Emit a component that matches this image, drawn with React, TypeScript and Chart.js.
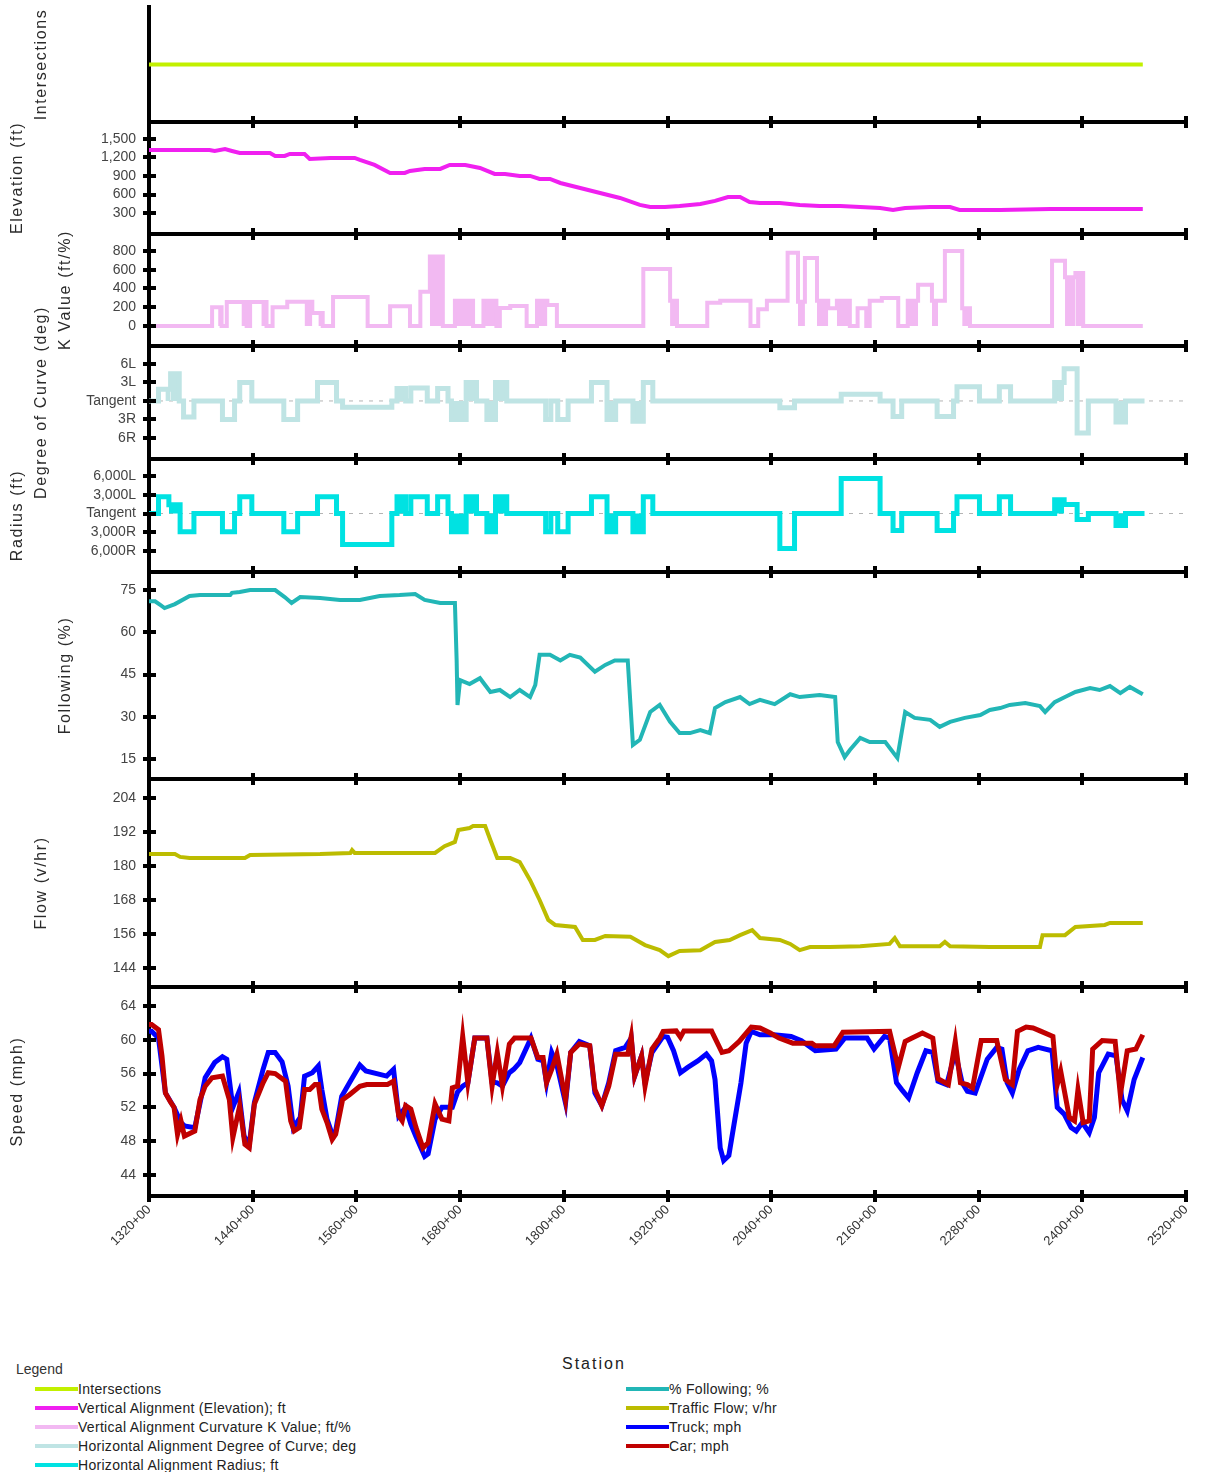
import React, { useEffect, useRef } from 'react';
import { Chart, registerables } from 'chart.js';

Chart.register(...registerables);

// ---------------- DATA ----------------
const X_MIN = 1320;
const X_MAX = 2520;
const X_TICKS = [1320, 1440, 1560, 1680, 1800, 1920, 2040, 2160, 2280, 2400, 2520];

const INTERSECTIONS: number[][] = [[1320, 1], [2470, 1]];

const ELEVATION: number[][] = [
  [1320, 1322], [1390, 1322], [1396, 1306], [1408, 1335], [1416, 1306], [1425, 1273], [1460, 1273],
  [1466, 1225], [1477, 1225], [1483, 1257], [1500, 1257], [1506, 1176], [1530, 1192], [1558, 1192],
  [1564, 1160], [1581, 1079], [1599, 949], [1616, 949], [1622, 982], [1639, 1014], [1657, 1014],
  [1668, 1079], [1686, 1079], [1703, 1030], [1720, 933], [1732, 933], [1749, 901], [1761, 901],
  [1772, 852], [1784, 852], [1796, 787], [1819, 706], [1842, 625], [1865, 544], [1888, 431],
  [1900, 398], [1917, 398], [1934, 415], [1958, 447], [1975, 496], [1990, 560], [2004, 560],
  [2015, 479], [2027, 463], [2050, 463], [2073, 431], [2096, 415], [2120, 415], [2143, 398],
  [2166, 382], [2181, 350], [2195, 382], [2224, 398], [2247, 398], [2258, 350], [2305, 350],
  [2363, 366], [2470, 366],
];

// K value: [station, value] – value holds until the next station
const K_VALUE: number[][] = [
  [1320, 0], [1393, 200], [1404, 0], [1410, 255], [1433, 0], [1437, 255], [1456, 0], [1463, 200],
  [1480, 260], [1509, 140], [1521, 0], [1533, 310], [1573, 0], [1599, 210], [1622, 0], [1634, 366],
  [1645, 740], [1660, 0], [1674, 270], [1695, 0], [1707, 270], [1722, 0], [1726, 192], [1738, 213],
  [1757, 0], [1769, 270], [1781, 225], [1792, 0], [1892, 608], [1923, 270], [1931, 0], [1966, 249],
  [1981, 270], [2016, 0], [2025, 180], [2035, 270], [2059, 780], [2071, 260], [2079, 725], [2093, 270],
  [2106, 190], [2116, 270], [2131, 0], [2140, 190], [2150, 0], [2154, 270], [2168, 300], [2187, 0],
  [2198, 270], [2210, 440], [2226, 270], [2241, 800], [2261, 190], [2270, 0], [2365, 697], [2380, 520],
  [2392, 565], [2401, 0], [2470, 0],
];
// dense (filled-looking) K blocks: [from, to, value]
const K_FILLED: number[][] = [
  [1400, 1404, 200], [1427, 1433, 255], [1450, 1456, 255], [1500, 1509, 260], [1516, 1521, 140],
  [1645, 1660, 740], [1674, 1695, 270], [1707, 1722, 270], [1769, 1781, 270], [1923, 1931, 270],
  [2071, 2079, 260], [2093, 2106, 270], [2116, 2131, 270], [2198, 2210, 270], [2226, 2233, 270],
  [2261, 2270, 190], [2380, 2392, 520], [2392, 2401, 565],
];

const DEGREE: number[][] = [
  [1320, 0], [1331, 1.9], [1345, 4.4], [1355, 0], [1360, -2.6], [1372, 0], [1405, -3], [1419, 0],
  [1425, 3], [1439, 0], [1476, -3], [1492, 0], [1515, 3], [1537, 0], [1544, -1], [1601, 0],
  [1607, 2], [1617, 0], [1623, 2.1], [1642, 0], [1654, 2], [1666, 0], [1670, -3], [1687, 3],
  [1699, 0], [1711, -3], [1721, 3], [1734, 0], [1779, -3], [1785, 0], [1793, -3], [1805, 0],
  [1832, 3], [1850, -3], [1860, 0], [1880, -3.3], [1892, 3], [1903, 0], [2050, -1.1], [2067, 0],
  [2121, 1.1], [2166, 0], [2181, -2.5], [2191, 0], [2232, -2.5], [2251, 0], [2255, 2.3], [2281, 0],
  [2304, 2.3], [2317, 0], [2368, 3], [2379, 5.2], [2394, -5.2], [2407, 0], [2439, -3.4], [2450, 0],
  [2472, 0],
];
const DEGREE_FILLED: number[][] = [
  [1339, 1345, 1.9], [1345, 1355, 4.4], [1607, 1617, 2], [1670, 1687, -3], [1687, 1699, 3],
  [1711, 1721, -3], [1721, 1734, 3], [1850, 1860, -3], [1880, 1892, -3.3], [2368, 2379, 3],
  [2439, 2450, -3.4],
];

const RADIUS: number[][] = [
  [1320, 0], [1331, 2700], [1343, 1400], [1356, -2900], [1372, 0], [1405, -2900], [1419, 0],
  [1425, 2700], [1439, 0], [1476, -2900], [1492, 0], [1515, 2700], [1537, 0], [1544, -4960],
  [1601, 0], [1607, 2700], [1617, 0], [1623, 2700], [1642, 0], [1654, 2700], [1666, 0],
  [1670, -2900], [1687, 2700], [1699, 0], [1711, -2900], [1721, 2700], [1734, 0], [1779, -2900],
  [1785, 0], [1793, -2900], [1805, 0], [1832, 2700], [1850, -2900], [1860, 0], [1880, -2900],
  [1892, 2700], [1903, 0], [2050, -5600], [2067, 0], [2121, 5600], [2166, 0], [2181, -2700],
  [2191, 0], [2232, -2700], [2251, 0], [2255, 2700], [2281, 0], [2304, 2700], [2317, 0],
  [2368, 2200], [2379, 1440], [2394, -960], [2407, 0], [2439, -1900], [2450, 0], [2472, 0],
];
const RADIUS_FILLED: number[][] = [
  [1343, 1356, 1400], [1607, 1617, 2700], [1670, 1687, -2900], [1687, 1699, 2700],
  [1711, 1721, -2900], [1721, 1734, 2700], [1850, 1860, -2900], [1880, 1892, -2900],
  [2368, 2379, 2200], [2439, 2450, -1900],
];

const FOLLOWING: number[][] = [
  [1320, 71], [1327, 71], [1333, 69.7], [1338, 68.6], [1350, 70], [1367, 72.9], [1379, 73.2],
  [1414, 73.2], [1416, 74], [1425, 74.3], [1437, 75], [1466, 75], [1477, 72.5], [1485, 70.4],
  [1495, 72.5], [1518, 72.2], [1541, 71.5], [1564, 71.5], [1587, 72.9], [1610, 73.2], [1628, 73.6],
  [1639, 71.5], [1657, 70.4], [1674, 70.4], [1676, 50], [1677, 34.2], [1680, 43], [1691, 41.6],
  [1703, 43.7], [1715, 38.8], [1726, 39.5], [1738, 37], [1749, 39.5], [1761, 37], [1767, 41.3],
  [1772, 52], [1784, 52], [1796, 50], [1807, 52], [1819, 51], [1836, 46], [1848, 48.4], [1859, 50],
  [1874, 50], [1880, 20], [1888, 21.8], [1900, 31.7], [1911, 34.2], [1923, 28.2], [1934, 24.2],
  [1946, 24.2], [1958, 25.3], [1969, 24.2], [1975, 33.1], [1987, 35.2], [2004, 37], [2015, 34.5],
  [2027, 36], [2044, 34.5], [2062, 38], [2073, 37], [2096, 37.7], [2114, 37], [2117, 21],
  [2125, 15.7], [2131, 18.2], [2143, 22.5], [2154, 21], [2172, 21], [2186, 15.4], [2195, 31.7],
  [2206, 29.6], [2224, 28.9], [2235, 26.4], [2247, 28.2], [2264, 29.6], [2282, 30.6], [2293, 32.4],
  [2305, 33.1], [2316, 34.2], [2334, 34.9], [2351, 33.8], [2357, 31.7], [2368, 35.2], [2380, 37],
  [2392, 38.8], [2409, 40.2], [2420, 39.5], [2432, 40.9], [2444, 38.4], [2455, 40.6], [2470, 38],
];

const FLOW: number[][] = [
  [1320, 184.2], [1350, 184.2], [1356, 183.2], [1367, 182.8], [1431, 182.8], [1437, 183.9],
  [1518, 184.2], [1553, 184.6], [1555, 185.6], [1558, 184.6], [1651, 184.6], [1662, 187],
  [1674, 188.5], [1678, 192.7], [1691, 193.4], [1695, 194.1], [1709, 194.1], [1715, 189.2],
  [1723, 182.8], [1738, 182.8], [1749, 181.4], [1761, 175], [1772, 168], [1782, 161], [1790, 159.2],
  [1813, 158.5], [1822, 153.9], [1836, 153.9], [1848, 155.3], [1877, 155], [1894, 152.1],
  [1911, 150.3], [1921, 148.2], [1934, 150], [1958, 150.3], [1975, 153.2], [1992, 153.9],
  [2004, 155.6], [2018, 157.4], [2027, 154.6], [2050, 153.9], [2062, 152.5], [2073, 150.3],
  [2085, 151.4], [2108, 151.4], [2143, 151.7], [2177, 152.5], [2183, 154.6], [2189, 151.7],
  [2235, 151.7], [2241, 153.2], [2247, 151.7], [2293, 151.4], [2351, 151.4], [2354, 155.6],
  [2380, 155.6], [2392, 158.5], [2426, 159.2], [2432, 159.9], [2470, 159.9],
];

const TRUCK: number[][] = [
  [1320, 61.0], [1323, 61.0], [1331, 60.2], [1339, 53.7], [1349, 52.0], [1357, 50.2], [1361, 49.8],
  [1373, 49.6], [1379, 52.5], [1385, 55.5], [1396, 57.3], [1405, 58.0], [1410, 57.7], [1417, 52.0],
  [1424, 53.8], [1430, 48.6], [1436, 47.6], [1442, 52.6], [1452, 56.5], [1458, 58.5], [1466, 58.5],
  [1474, 57.4], [1481, 54.5], [1487, 49.6], [1495, 50.8], [1500, 55.7], [1509, 56.1], [1516, 56.9],
  [1520, 54.1], [1526, 50.6], [1532, 48.8], [1536, 49.2], [1543, 53.3], [1552, 54.9], [1564, 57.0],
  [1571, 56.3], [1595, 55.7], [1603, 56.5], [1609, 51.0], [1617, 52.0], [1623, 50.0], [1629, 48.5],
  [1639, 46.2], [1643, 46.5], [1651, 50.6], [1659, 52.0], [1671, 52.0], [1677, 53.8], [1683, 54.5],
  [1689, 54.9], [1697, 60.2], [1711, 60.2], [1717, 55.0], [1723, 54.9], [1729, 54.5], [1737, 56.1],
  [1742, 56.5], [1749, 57.3], [1762, 60.2], [1770, 57.7], [1776, 57.5], [1780, 54.9], [1786, 58.5],
  [1792, 57.0], [1802, 52.5], [1808, 58.5], [1818, 59.8], [1830, 59.3], [1836, 53.7], [1844, 52.2],
  [1852, 54.9], [1860, 58.7], [1871, 59.1], [1878, 60.2], [1882, 55.7], [1890, 58.1], [1894, 54.9],
  [1902, 58.5], [1915, 60.4], [1920, 60.3], [1927, 58.7], [1935, 56.1], [1943, 56.7], [1955, 57.5],
  [1965, 58.3], [1971, 57.5], [1975, 55.3], [1981, 47.2], [1985, 45.7], [1991, 46.3], [1997, 50.0],
  [2005, 54.9], [2011, 59.6], [2017, 61.0], [2027, 60.6], [2043, 60.6], [2063, 60.4], [2075, 59.9],
  [2091, 58.7], [2115, 58.9], [2125, 60.2], [2151, 60.2], [2159, 58.9], [2171, 60.4], [2177, 60.2],
  [2185, 54.9], [2191, 54.1], [2199, 53.1], [2209, 56.1], [2219, 58.7], [2227, 58.5], [2233, 55.1],
  [2243, 54.7], [2253, 58.5], [2261, 54.9], [2267, 53.9], [2276, 53.7], [2290, 57.7], [2301, 59.1],
  [2307, 58.9], [2313, 54.9], [2319, 53.7], [2327, 56.5], [2337, 58.7], [2349, 59.1], [2365, 58.7],
  [2371, 52.0], [2379, 51.2], [2387, 49.6], [2393, 49.2], [2400, 50.2], [2408, 49.0], [2414, 50.8],
  [2419, 56.1], [2430, 58.3], [2439, 58.1], [2446, 52.9], [2452, 51.6], [2460, 55.3], [2470, 57.9],
];

const CAR: number[][] = [
  [1320, 61.8], [1323, 61.8], [1331, 61.2], [1335, 58.1], [1339, 53.7], [1345, 52.6], [1349, 52.0],
  [1353, 48.8], [1357, 50.4], [1361, 48.6], [1373, 49.2], [1379, 52.9], [1385, 54.5], [1393, 55.5],
  [1405, 55.7], [1413, 52.9], [1417, 48.4], [1425, 52.2], [1431, 47.6], [1436, 47.2], [1442, 52.4],
  [1452, 54.9], [1458, 56.1], [1466, 56.0], [1478, 55.1], [1484, 50.4], [1488, 49.2], [1494, 49.6],
  [1500, 54.1], [1506, 54.1], [1512, 54.7], [1516, 54.7], [1520, 51.8], [1526, 50.2], [1532, 48.2],
  [1536, 48.8], [1544, 52.9], [1552, 53.5], [1564, 54.5], [1572, 54.7], [1596, 54.7], [1603, 55.1],
  [1609, 51.0], [1613, 50.4], [1617, 52.2], [1623, 51.8], [1629, 49.6], [1637, 47.2], [1643, 47.8],
  [1651, 52.4], [1659, 50.6], [1667, 50.4], [1671, 54.3], [1677, 54.5], [1683, 60.4], [1689, 54.9],
  [1697, 60.2], [1711, 60.2], [1717, 54.5], [1723, 58.5], [1729, 54.5], [1737, 59.5], [1743, 60.2],
  [1762, 60.2], [1770, 57.9], [1776, 57.9], [1780, 54.9], [1786, 56.5], [1792, 58.3], [1802, 52.9],
  [1808, 58.5], [1818, 59.5], [1830, 59.3], [1836, 54.1], [1844, 52.2], [1852, 54.5], [1860, 58.3],
  [1874, 58.3], [1878, 60.4], [1882, 55.7], [1890, 58.1], [1894, 54.5], [1902, 58.9], [1911, 60.2],
  [1915, 61.0], [1930, 61.05], [1935, 60.3], [1939, 61.05], [1971, 61.05], [1973, 60.6], [1983, 58.5],
  [1991, 58.7], [2003, 59.8], [2017, 61.5], [2027, 61.4], [2039, 60.8], [2049, 60.2], [2065, 59.6],
  [2087, 59.6], [2091, 59.3], [2113, 59.3], [2123, 60.9], [2177, 61.0], [2187, 56.7], [2195, 59.8],
  [2203, 60.2], [2215, 60.8], [2227, 60.2], [2233, 55.4], [2245, 54.7], [2253, 59.8], [2259, 54.9],
  [2267, 54.7], [2273, 54.3], [2283, 59.9], [2301, 59.9], [2311, 55.3], [2319, 54.7], [2325, 61.0],
  [2335, 61.5], [2343, 61.4], [2351, 61.05], [2366, 60.4], [2371, 54.7], [2375, 56.3], [2385, 50.8],
  [2391, 50.4], [2395, 54.1], [2401, 50.2], [2408, 50.4], [2412, 58.9], [2423, 59.9], [2438, 59.8],
  [2444, 53.5], [2452, 58.7], [2462, 58.9], [2470, 60.6],
];

const TANGENT_LINE: number[][] = [[1320, 0], [2520, 0]];

// tick values / labels
const ELEV_TICKS = [300, 600, 900, 1200, 1500];
const K_TICKS = [0, 200, 400, 600, 800];
const DEG_TICKS = [-6, -3, 0, 3, 6];
const DEG_LABELS = ['6R', '3R', 'Tangent', '3L', '6L'];
const RAD_TICKS = [-6000, -3000, 0, 3000, 6000];
const RAD_LABELS = ['6,000R', '3,000R', 'Tangent', '3,000L', '6,000L'];
const FOLLOW_TICKS = [15, 30, 45, 60, 75];
const FLOW_TICKS = [144, 156, 168, 180, 192, 204];
const SPEED_TICKS = [44, 48, 52, 56, 60, 64];

const LEGEND_LEFT = [
  'Intersections',
  'Vertical Alignment (Elevation); ft',
  'Vertical Alignment Curvature K Value; ft/%',
  'Horizontal Alignment Degree of Curve; deg',
  'Horizontal Alignment Radius; ft',
];
const LEGEND_RIGHT = ['% Following; %', 'Traffic Flow; v/hr', 'Truck; mph', 'Car; mph'];

// ---------------- STYLE / LAYOUT ----------------
const C_INT = '#c2f000';
const C_ELEV = '#f020f0';
const C_K = '#f2b9f2';
const C_DEG = '#bfe4e4';
const C_RAD = '#00e2e2';
const C_FOL = '#22b6b6';
const C_FLOW = '#bcbc00';
const C_TRUCK = '#0000ff';
const C_CAR = '#c00000';

const FONT = '"Liberation Sans", Arial, sans-serif';
const CANVAS_W = 1206;
const CANVAS_H = 1300;
const AXIS_X = 149;
const PLOT_TOP = 7;
const PLOT_BOTTOM = 1196;
const PLOT_RIGHT = 1186;

type Panel = {
  id: string; title: string; min: number; max: number; h: number; titleX: number;
  ticks: number[]; labels?: string[]; comma?: boolean;
};

const PANELS: Panel[] = [
  { id: 'yInt', title: 'Intersections', min: 0, max: 2, h: 115, titleX: 42, ticks: [] },
  { id: 'yElev', title: 'Elevation (ft)', min: -40, max: 1775, h: 112, titleX: 18, ticks: ELEV_TICKS, comma: true },
  { id: 'yK', title: 'K Value (ft/%)', min: -213, max: 981, h: 112, titleX: 66, ticks: K_TICKS },
  { id: 'yDeg', title: 'Degree of Curve (deg)', min: -9.4, max: 8.9, h: 113, titleX: 42, ticks: DEG_TICKS, labels: DEG_LABELS },
  { id: 'yRad', title: 'Radius (ft)', min: -9360, max: 8720, h: 113, titleX: 18, ticks: RAD_TICKS, labels: RAD_LABELS },
  { id: 'yFol', title: 'Following (%)', min: 7.9, max: 81.4, h: 207, titleX: 66, ticks: FOLLOW_TICKS },
  { id: 'yFlow', title: 'Flow (v/hr)', min: 137.3, max: 210.7, h: 208, titleX: 42, ticks: FLOW_TICKS },
  { id: 'ySpeed', title: 'Speed (mph)', min: 41.5, max: 66.25, h: 209, titleX: 18, ticks: SPEED_TICKS },
];

const pts = (arr: number[][]) => arr.map(([x, y]) => ({ x, y }));
const blocks = (arr: number[][]) =>
  arr.flatMap(([a, b, v]) => [{ x: a, y: v }, { x: b, y: v }, { x: b, y: null as any }]);

const panelPlugin = {
  id: 'panelDecor',
  afterDraw(chart: any) {
    const ctx: CanvasRenderingContext2D = chart.ctx;
    const xs = chart.scales.x;
    const { left, right } = chart.chartArea;
    ctx.save();
    ctx.fillStyle = '#000';
    PANELS.forEach((p) => {
      const s = chart.scales[p.id];
      if (!s) return;
      if (p.ticks.length) {
        p.ticks.forEach((v) => {
          const py = Math.round(s.getPixelForValue(v));
          ctx.fillRect(left - 6, py - 2, 13, 4);
        });
      }
      const yb = Math.round(s.bottom);
      ctx.fillRect(left - 2, yb - 2, right - left + 2, 4);
      X_TICKS.forEach((v) => {
        const px = Math.round(xs.getPixelForValue(v));
        ctx.fillRect(px - 2, yb - 6, 4, 12);
      });
      ctx.save();
      ctx.translate(p.titleX, (s.top + s.bottom) / 2);
      ctx.rotate(-Math.PI / 2);
      ctx.font = `16px ${FONT}`;
      (ctx as any).letterSpacing = '1.6px';
      ctx.textAlign = 'center';
      ctx.textBaseline = 'middle';
      ctx.fillStyle = '#2a2a2a';
      ctx.fillText(p.title, 0, 0);
      ctx.restore();
    });
    ctx.restore();
  },
};

export default function App() {
  const ref = useRef<HTMLCanvasElement | null>(null);

  useEffect(() => {
    const canvas = ref.current;
    if (!canvas) return;
    Chart.defaults.font.family = FONT;

    const line = (label: string, data: any[], yAxisID: string, color: string, width: number, extra: any = {}) => ({
      label, data, yAxisID, borderColor: color, backgroundColor: color, borderWidth: width,
      pointRadius: 0, pointHoverRadius: 0, fill: false, tension: 0, order: 3, ...extra,
    });

    const datasets: any[] = [
      line('tangentDeg', pts(TANGENT_LINE), 'yDeg', '#b4b4b4', 1, { borderDash: [4, 6], order: 10 }),
      line('tangentRad', pts(TANGENT_LINE), 'yRad', '#b4b4b4', 1, { borderDash: [4, 6], order: 10 }),
      line('Intersections', pts(INTERSECTIONS), 'yInt', C_INT, 4),
      line('Elevation', pts(ELEVATION), 'yElev', C_ELEV, 4),
      line('K fill', blocks(K_FILLED), 'yK', 'rgba(0,0,0,0)', 0, { backgroundColor: C_K, fill: 'origin', order: 6 }),
      line('K Value', pts(K_VALUE), 'yK', C_K, 4, { stepped: true }),
      line('Deg fill', blocks(DEGREE_FILLED), 'yDeg', 'rgba(0,0,0,0)', 0, { backgroundColor: C_DEG, fill: 'origin', order: 6 }),
      line('Degree', pts(DEGREE), 'yDeg', C_DEG, 5, { stepped: true }),
      line('Rad fill', blocks(RADIUS_FILLED), 'yRad', 'rgba(0,0,0,0)', 0, { backgroundColor: C_RAD, fill: 'origin', order: 6 }),
      line('Radius', pts(RADIUS), 'yRad', C_RAD, 5, { stepped: true }),
      line('% Following', pts(FOLLOWING), 'yFol', C_FOL, 4),
      line('Traffic Flow', pts(FLOW), 'yFlow', C_FLOW, 4),
      line('Truck', pts(TRUCK), 'ySpeed', C_TRUCK, 5, { order: 2 }),
      line('Car', pts(CAR), 'ySpeed', C_CAR, 5, { order: 1 }),
    ];

    const scales: any = {
      x: {
        type: 'linear',
        position: 'bottom',
        min: X_MIN,
        max: X_MAX,
        grid: { display: false, drawTicks: false },
        border: { display: false },
        ticks: {
          autoSkip: false,
          minRotation: 45,
          maxRotation: 45,
          padding: 6,
          color: '#333',
          font: { size: 13, family: FONT },
          callback: (v: any) => `${v}+00`,
        },
        afterBuildTicks: (s: any) => { s.ticks = X_TICKS.map((v) => ({ value: v })); },
        afterFit: (s: any) => { s.height = CANVAS_H - PLOT_BOTTOM; s.paddingLeft = 0; s.paddingRight = 0; },
      },
    };

    PANELS.forEach((p, i) => {
      scales[p.id] = {
        type: 'linear',
        position: 'left',
        stack: 'panels',
        stackWeight: p.h,
        weight: PANELS.length - i,
        min: p.min,
        max: p.max,
        grid: { display: false, drawTicks: false },
        border: { display: true, color: '#000', width: 4 },
        ticks: {
          display: p.ticks.length > 0,
          autoSkip: false,
          padding: 13,
          color: '#444',
          font: { size: 14, family: FONT },
          callback: (v: any) => {
            const idx = p.ticks.indexOf(v);
            if (p.labels && idx >= 0) return p.labels[idx];
            return p.comma ? Number(v).toLocaleString('en-US') : String(v);
          },
        },
        afterBuildTicks: (s: any) => {
          s.ticks = (p.ticks.length ? p.ticks : [(p.min + p.max) / 2]).map((v) => ({ value: v }));
        },
        afterFit: (s: any) => { s.width = AXIS_X; s.paddingTop = 0; s.paddingBottom = 0; },
      };
    });

    const chart = new Chart(canvas, {
      type: 'line',
      data: { datasets },
      options: {
        responsive: false,
        animation: false,
        devicePixelRatio: 1,
        events: [],
        layout: { padding: { top: PLOT_TOP, right: CANVAS_W - PLOT_RIGHT, bottom: 0, left: 0 } },
        plugins: { legend: { display: false }, tooltip: { enabled: false }, title: { display: false } },
        scales,
      } as any,
      plugins: [panelPlugin as any],
    });
    return () => chart.destroy();
  }, []);

  const rowStyle = (left: number, centerY: number): React.CSSProperties => ({
    position: 'absolute', left, top: centerY - 9, height: 18, display: 'flex', alignItems: 'center',
    whiteSpace: 'nowrap', font: `14px ${FONT}`, color: '#222', letterSpacing: '0.3px',
  });
  const LEFT_COLORS = [C_INT, C_ELEV, C_K, C_DEG, C_RAD];
  const RIGHT_COLORS = [C_FOL, C_FLOW, C_TRUCK, C_CAR];

  return (
    <div style={{ position: 'absolute', left: 0, top: 0, width: CANVAS_W, height: 1472, overflow: 'hidden', background: '#fff' }}>
      <canvas ref={ref} width={CANVAS_W} height={CANVAS_H} style={{ display: 'block', width: CANVAS_W, height: CANVAS_H }} />
      <div style={{ position: 'absolute', left: 562, top: 1355, font: `16px ${FONT}`, letterSpacing: '2px', color: '#222' }}>Station</div>
      <div style={{ position: 'absolute', left: 16, top: 1361, font: `14px ${FONT}`, color: '#333' }}>Legend</div>
      {LEGEND_LEFT.map((t, i) => (
        <div key={t} style={rowStyle(35, 1389 + 19 * i)}>
          <span style={{ display: 'inline-block', width: 43, height: 4, background: LEFT_COLORS[i] }} />
          <span>{t}</span>
        </div>
      ))}
      {LEGEND_RIGHT.map((t, i) => (
        <div key={t} style={rowStyle(626, 1389 + 19 * i)}>
          <span style={{ display: 'inline-block', width: 43, height: 4, background: RIGHT_COLORS[i] }} />
          <span>{t}</span>
        </div>
      ))}
    </div>
  );
}
